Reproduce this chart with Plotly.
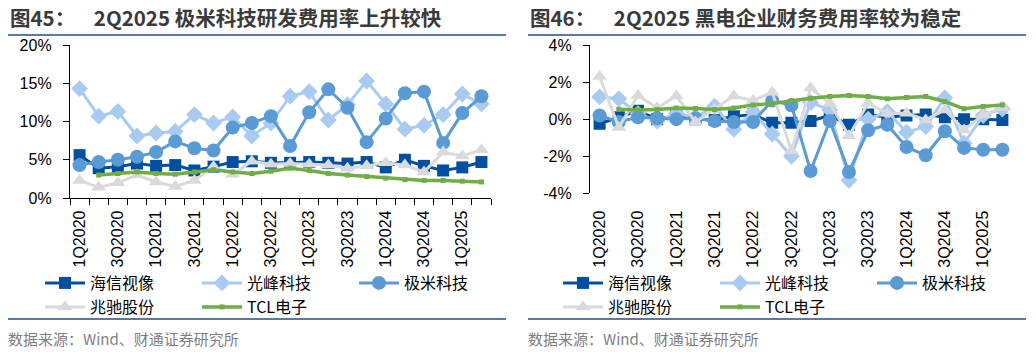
import plotly.graph_objects as go

W, H = 1036, 352

quarters = ["1Q2020", "2Q2020", "3Q2020", "4Q2020", "1Q2021", "2Q2021", "3Q2021", "4Q2021",
            "1Q2022", "2Q2022", "3Q2022", "4Q2022", "1Q2023", "2Q2023", "3Q2023", "4Q2023",
            "1Q2024", "2Q2024", "3Q2024", "4Q2024", "1Q2025", "2Q2025"]
tick_labels = ["1Q2020", "", "3Q2020", "", "1Q2021", "", "3Q2021", "", "1Q2022", "", "3Q2022", "",
               "1Q2023", "", "3Q2023", "", "1Q2024", "", "3Q2024", "", "1Q2025", ""]

series_names = ["海信视像", "光峰科技", "极米科技", "兆驰股份", "TCL电子"]

# 图45 研发费用率 (%)
rd_hisense = [5.6, 3.9, 4.1, 4.5, 4.2, 4.3, 3.6, 4.1, 4.7, 4.8, 4.6, 4.6, 4.7, 4.6, 4.5, 4.7, 4.0, 5.0, 4.2, 3.6, 4.0, 4.7]
rd_appotronics = [14.3, 10.7, 11.3, 8.1, 8.5, 8.7, 10.9, 9.8, 10.6, 8.1, 9.8, 13.3, 13.9, 10.2, 12.2, 15.3, 12.3, 9.0, 9.5, 10.9, 13.6, 12.3]
rd_xgimi = [4.3, 4.7, 5.0, 5.4, 6.0, 7.4, 6.5, 6.2, 9.2, 9.8, 10.7, 6.8, 11.2, 14.2, 11.8, 7.3, 10.4, 13.7, 13.9, 7.2, 11.1, 13.3]
rd_mtc = [2.3, 1.4, 2.0, 3.0, 2.1, 1.5, 2.3, 4.1, 3.1, 4.8, 4.4, 4.5, 4.4, 4.3, 3.9, 4.2, 4.6, 4.3, 3.4, 6.0, 5.5, 6.3]
rd_tcl = [None, 3.0, 3.2, 3.4, 3.2, 3.1, 3.4, 3.7, 3.4, 3.2, 3.5, 3.9, 3.6, 3.2, 3.0, 2.8, 2.6, 2.4, 2.3, 2.3, 2.2, 2.1]

# 图46 财务费用率 (%)
fin_hisense = [-0.25, 0.1, 0.45, 0.0, 0.2, 0.0, -0.05, 0.15, 0.25, -0.2, -0.2, -0.1, 0.2, -0.3, 0.25, 0.1, 0.2, 0.25, 0.1, 0.0, 0.0, -0.05]
fin_appotronics = [1.2, 1.1, 0.3, -0.1, 0.3, 0.1, 0.7, -0.55, 0.4, -0.8, -2.0, 0.9, 0.5, -3.3, 0.0, 0.4, -0.7, -0.4, 1.15, -1.3, 0.2, 0.55]
fin_xgimi = [0.2, -0.15, 0.1, 0.05, 0.0, 0.05, -0.1, -0.15, -0.15, 1.0, 0.75, -2.8, -0.1, -2.85, -0.6, -0.3, -1.5, -1.95, -0.65, -1.55, -1.65, -1.65]
fin_mtc = [2.3, -0.45, 1.28, 0.6, 1.25, -0.15, 0.56, 1.25, 1.0, 1.45, -1.7, 1.68, 0.86, -0.9, 0.86, 0.32, 0.32, -0.04, 0.5, -0.58, 0.23, 0.63]
fin_tcl = [None, 0.54, 0.5, 0.52, 0.6, 0.58, 0.52, 0.6, 0.77, 0.84, 0.99, 1.13, 1.22, 1.28, 1.22, 1.1, 1.17, 1.22, 0.95, 0.56, 0.68, 0.77]

left_y_ticks = [0, 5, 10, 15, 20]
left_y_labels = ["0%", "5%", "10%", "15%", "20%"]
right_y_ticks = [-4, -2, 0, 2, 4]
right_y_labels = ["-4%", "-2%", "0%", "2%", "4%"]

titles = ["图45：\u00a0\u00a0\u00a0\u00a02Q2025 极米科技研发费用率上升较快",
          "图46：\u00a0\u00a0\u00a0\u00a02Q2025 黑电企业财务费用率较为稳定"]
source_text = "数据来源：Wind、财通证券研究所"

styles = [
    dict(color="#00509F", symbol="square", size=12),
    dict(color="#A9CBF2", symbol="diamond", size=13),
    dict(color="#5B9BD5", symbol="circle", size=14),
    dict(color="#D9DADD", symbol="triangle-up", size=13),
    dict(color="#70AD47", symbol="square", size=5),
]

fig = go.Figure()

def add_chart(values, xa, ya, legends):
    for i, (name, vals) in enumerate(zip(series_names, values)):
        st = styles[i]
        fig.add_trace(go.Scatter(
            x=quarters, y=vals, name=name, mode="lines+markers",
            xaxis=xa, yaxis=ya, legend=legends[0] if i < 3 else legends[1],
            line=dict(color=st["color"], width=3.5 if i == 4 else 3),
            marker=dict(color=st["color"], symbol=st["symbol"], size=st["size"]),
            connectgaps=False, hoverinfo="skip"))

add_chart([rd_hisense, rd_appotronics, rd_xgimi, rd_mtc, rd_tcl], "x", "y", ["legend", "legend2"])
add_chart([fin_hisense, fin_appotronics, fin_xgimi, fin_mtc, fin_tcl], "x2", "y2", ["legend3", "legend4"])

def px_x(p):
    return p / W

def px_y(p):
    return 1 - p / H

tickfont = dict(family="Liberation Sans", size=16, color="#000000")
cat_common = dict(type="category", categoryorder="array", categoryarray=quarters,
                  tickmode="array", tickvals=quarters, range=[-0.5, len(quarters) - 0.5],
                  showgrid=False, zeroline=False, fixedrange=True)

legend_common = dict(orientation="h", entrywidth=102, entrywidthmode="pixels",
                     font=dict(family="Noto Sans CJK SC", size=16, color="#000000"),
                     bgcolor="rgba(0,0,0,0)", xanchor="left", yanchor="middle",
                     tracegroupgap=0, itemwidth=40)

fig.update_layout(
    width=W, height=H, margin=dict(l=0, r=0, t=0, b=0, autoexpand=False),
    paper_bgcolor="white", plot_bgcolor="white",
    font=dict(family="Noto Sans CJK SC", color="#000000"),
    showlegend=True,
    xaxis=dict(domain=[px_x(70), px_x(491)], anchor="y", ticktext=tick_labels,
               tickangle=-90, tickson="boundaries", ticks="outside", ticklen=6,
               tickcolor="#000000", showline=True, linecolor="#000000", linewidth=1.3,
               tickfont=tickfont, automargin=False, ticklabelstandoff=5, **cat_common),
    yaxis=dict(domain=[px_y(198), px_y(45)], anchor="x", range=[0, 20],
               tickmode="array", tickvals=left_y_ticks, ticktext=left_y_labels,
               ticks="outside", ticklen=6, tickcolor="#000000", showline=True,
               linecolor="#000000", linewidth=1.3, showgrid=False, zeroline=False,
               tickfont=tickfont, automargin=False, ticklabelstandoff=8),
    xaxis2=dict(domain=[px_x(590), px_x(1012)], anchor="y2", ticktext=tick_labels,
                tickangle=-90, ticks="outside", ticklen=10, tickcolor="rgba(0,0,0,0)",
                showline=False, tickfont=tickfont, automargin=False, **cat_common),
    xaxis3=dict(overlaying="x2", anchor="free", position=px_y(119.3),
                showticklabels=False, tickson="boundaries", ticks="outside", ticklen=4,
                tickcolor="#000000", showline=True, linecolor="#000000", linewidth=1.3,
                automargin=False, **cat_common),
    yaxis2=dict(domain=[px_y(193.3), px_y(45)], anchor="x2", range=[-4, 4],
                tickmode="array", tickvals=right_y_ticks, ticktext=right_y_labels,
                ticks="outside", ticklen=6, tickcolor="#000000", showline=True,
                linecolor="#000000", linewidth=1.3, showgrid=False, zeroline=False,
                tickfont=tickfont, automargin=False, ticklabelstandoff=8),
    legend=dict(x=px_x(40), y=px_y(283), **legend_common),
    legend2=dict(x=px_x(40), y=px_y(307), **legend_common),
    legend3=dict(x=px_x(558), y=px_y(283), **legend_common),
    legend4=dict(x=px_x(558), y=px_y(307), **legend_common),
)

for x0 in (8, 528):
    x1 = x0 + 498
    fig.add_shape(type="line", xref="paper", yref="paper", x0=px_x(x0), x1=px_x(x1),
                  y0=px_y(35), y1=px_y(35), line=dict(color="#1F4E8C", width=1.5))
    fig.add_shape(type="line", xref="paper", yref="paper", x0=px_x(x0), x1=px_x(x1),
                  y0=px_y(319), y1=px_y(319), line=dict(color="#1F4E8C", width=1.5))

for x0, t in zip((8, 528), titles):
    fig.add_annotation(text="<b>" + t + "</b>", xref="paper", yref="paper",
                       x=px_x(x0), y=px_y(17), xanchor="left", yanchor="middle",
                       showarrow=False, font=dict(family="Noto Sans CJK SC", size=20.5, color="#3A3A3A"))
    fig.add_annotation(text=source_text, xref="paper", yref="paper",
                       x=px_x(x0 - 2), y=px_y(338), xanchor="left", yanchor="middle",
                       showarrow=False, font=dict(family="Noto Sans CJK SC", size=15, color="#7F7F7F"))

fig.write_html("out.html")
